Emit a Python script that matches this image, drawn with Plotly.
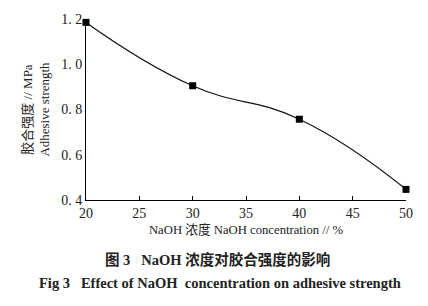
import plotly.graph_objects as go

naoh_conc = [20, 30, 40, 50]
adhesive_strength = [1.185, 0.905, 0.757, 0.447]
x_ticks = [20, 25, 30, 35, 40, 45, 50]
y_ticks = [0.4, 0.6, 0.8, 1.0, 1.2]
y_tick_labels = ["0. 4", "0. 6", "0. 8", "1. 0", "1. 2"]

FONT = "Liberation Serif, Noto Sans CJK SC"

fig = go.Figure()
fig.add_trace(go.Scatter(
    x=naoh_conc, y=adhesive_strength, mode="lines+markers",
    line=dict(color="#111", width=1.2, shape="spline", smoothing=1.3),
    marker=dict(symbol="square", size=7, color="black"),
    cliponaxis=False, showlegend=False,
))

fig.update_layout(
    width=428, height=306,
    margin=dict(l=86, r=22, t=15, b=106),
    paper_bgcolor="white", plot_bgcolor="white",
    font=dict(family=FONT, size=14, color="#222"),
    xaxis=dict(range=[20, 50], tickvals=x_ticks, showline=True, linecolor="black",
               linewidth=1, ticks="inside", ticklen=4, tickcolor="black",
               showgrid=False, zeroline=False,
               title=dict(text="NaOH 浓度 NaOH concentration // %", standoff=5,
                          font=dict(size=12.7, family=FONT))),
    yaxis=dict(range=[0.4, 1.2], tickvals=y_ticks, ticktext=y_tick_labels,
               showline=True, linecolor="black", linewidth=1, ticks="",
               showgrid=False, zeroline=False,
               title=dict(text="胶合强度 // MPa<br>Adhesive strength", standoff=8,
                          font=dict(size=13, family=FONT))),
)

fig.add_annotation(text="<b>图 3   NaOH 浓度对胶合强度的影响</b>", xref="paper", yref="paper",
                   x=0.41, y=0, yshift=-70, showarrow=False,
                   font=dict(size=14.5, family="Liberation Serif, Noto Sans CJK SC", color="#222"))
fig.add_annotation(text="<b>Fig 3   Effect of NaOH  concentration on adhesive strength</b>",
                   xref="paper", yref="paper", x=0.42, y=0, yshift=-93, showarrow=False,
                   font=dict(size=14.5, family="Liberation Serif", color="#222"))

fig.write_html("out.html")
